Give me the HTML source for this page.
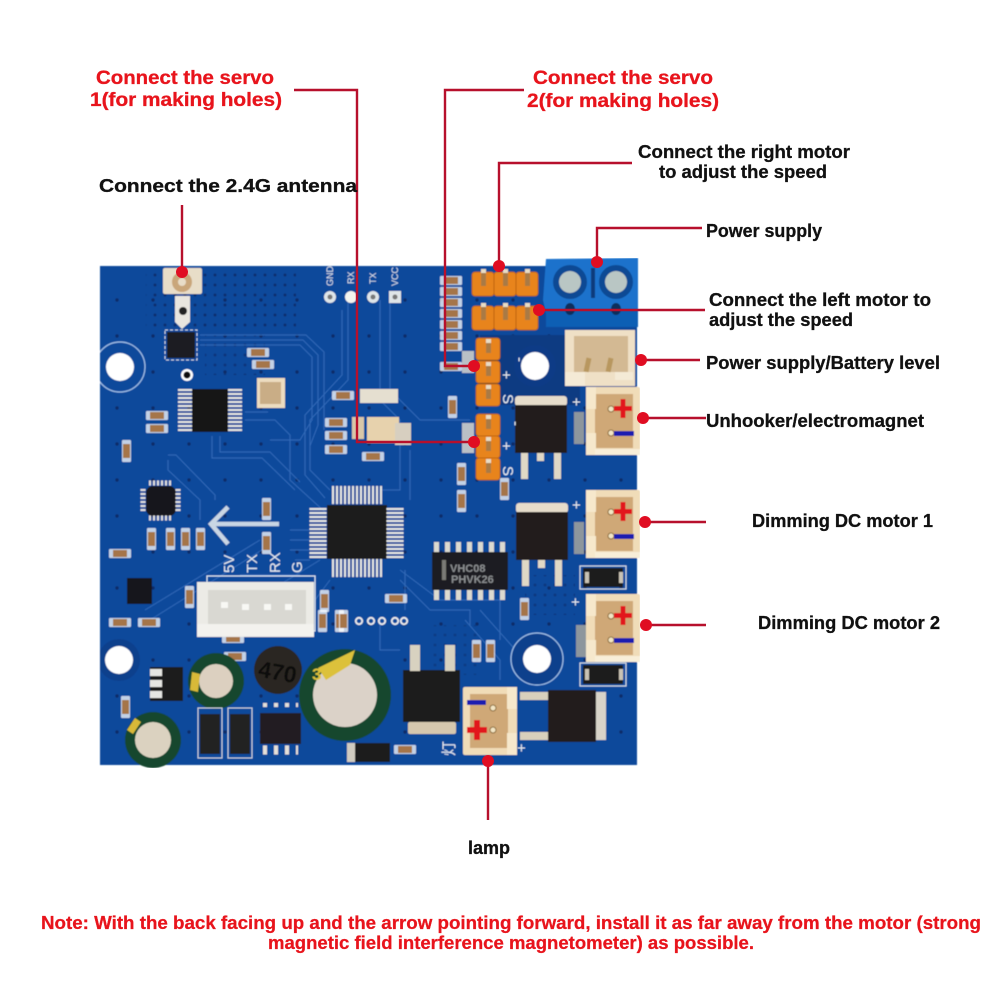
<!DOCTYPE html>
<html><head><meta charset="utf-8"><style>
html,body{margin:0;padding:0;background:#fff}
svg{display:block}
text{font-family:"Liberation Sans",sans-serif;font-weight:bold}
.r{fill:#e8141c;font-size:19px;stroke:#e8141c;stroke-width:.3}
.k{fill:#111;font-size:18px;stroke:#111;stroke-width:.3}
.n{fill:#e8141c;font-size:18px;stroke:#e8141c;stroke-width:.25}
.s{fill:#dfe6ef;font-size:9px;font-weight:normal}
.m{fill:#e8edf3;font-size:15px;font-weight:normal}
.w{stroke:#b7102c;stroke-width:2.4;fill:none}
.t{stroke:#3a72bf;stroke-width:1;fill:none;opacity:.8}
</style></head><body>
<svg width="1001" height="1001" viewBox="0 0 1001 1001" xmlns="http://www.w3.org/2000/svg">
<defs>
<clipPath id="bd"><rect x="100" y="266" width="537" height="499"/></clipPath>
<pattern id="vias" width="10" height="10" patternUnits="userSpaceOnUse"><circle cx="5" cy="5" r="1.5" fill="#0a2f6e"/></pattern>
<pattern id="vias2" width="36" height="36" patternUnits="userSpaceOnUse"><circle cx="9" cy="12" r="1.7" fill="#082c68"/></pattern>
<g id="jst">
<rect x="0" y="0" width="54" height="68" rx="2" fill="#f0dcb8"/>
<rect x="9" y="7" width="38" height="54" fill="#cfa877"/>
<rect x="0" y="0" width="10" height="22" fill="#f6e8cc"/>
<rect x="0" y="46" width="10" height="22" fill="#f6e8cc"/>
<rect x="9" y="62" width="45" height="6" fill="#f8eed8"/>
<circle cx="25" cy="22" r="3" fill="#f3e6c4" stroke="#8a6a3a"/>
<circle cx="25" cy="46" r="3" fill="#f3e6c4" stroke="#8a6a3a"/>
<rect x="28" y="19" width="18" height="5" fill="#e2141c"/><rect x="34.5" y="12" width="5" height="19" fill="#e2141c"/>
<rect x="28" y="44" width="20" height="5" fill="#1a1fb0"/>
</g>
<g id="hdr">
<rect x="0" y="0" width="22" height="24" rx="3" fill="#e8841c" stroke="#b8600f" stroke-width=".8"/>
<rect x="9" y="-2" width="5" height="16" fill="#a97a45"/><rect x="9" y="-3" width="5" height="4" fill="#e8dcc4"/>
</g>
<g id="vh">
<rect x="0" y="0" width="24" height="22" rx="3" fill="#e8841c" stroke="#b8600f" stroke-width=".8"/>
<rect x="10" y="2" width="5" height="13" fill="#a97a45"/><rect x="10" y="1" width="5" height="4" fill="#e8dcc4"/>
</g>
<g id="cap"><rect x="0" y="0" width="22" height="9" rx="1" fill="#fff" opacity=".75"/><rect x="4" y="1" width="14" height="7" fill="#a5754a"/></g>
<g id="capv"><rect x="0" y="0" width="9" height="22" rx="1" fill="#fff" opacity=".75"/><rect x="1" y="4" width="7" height="14" fill="#a5754a"/></g>
<g id="fet">
<rect x="0" y="-9" width="52" height="10" rx="3" fill="#e6dccb"/>
<rect x="0" y="0" width="52" height="48" fill="#201d1c"/>
<rect x="6" y="48" width="7" height="26" fill="#e0d8c6"/><rect x="39" y="48" width="7" height="26" fill="#e0d8c6"/><rect x="22" y="48" width="7" height="8" fill="#e0d8c6"/>
</g>
<g id="dio"><rect x="-3" y="-2" width="46" height="23" fill="none" stroke="#cfd8e4" stroke-width="1.2"/><rect x="0" y="0" width="40" height="19" fill="#1d1c1e"/><rect x="2" y="4" width="4" height="11" fill="#c9c2b4"/><rect x="36" y="4" width="4" height="11" fill="#c9c2b4"/></g>
<filter id="soft" x="0" y="0" width="100%" height="100%"><feGaussianBlur stdDeviation=".45"/></filter>
</defs>
<rect width="1001" height="1001" fill="#fff"/>

<g filter="url(#soft)">
<!-- board -->
<rect x="100" y="266" width="537" height="499" fill="#0c489b"/>
<rect x="100" y="266" width="537" height="499" fill="url(#vias2)"/>
<rect x="146" y="270" width="150" height="60" fill="url(#vias)"/>
<rect x="205" y="335" width="60" height="40" fill="url(#vias)" opacity=".7"/>
<rect x="430" y="625" width="50" height="50" fill="url(#vias)" opacity=".5"/>
<rect x="525" y="575" width="50" height="40" fill="url(#vias)" opacity=".6"/>
<rect x="480" y="335" width="100" height="70" fill="#0a3a82"/>
<!-- traces -->
<g class="t">
<path d="M200 345H300L312 357V420L300 440H270"/><path d="M200 340H303L318 355V425L310 446"/><path d="M200 335H306L324 352V430"/>
<path d="M245 420H275L290 435V480L325 512"/><path d="M245 412H268"/><path d="M220 436V452H270L300 482"/><path d="M212 436V458H262L295 490"/>
<path d="M168 460V470L200 500V520"/><path d="M168 455H176L215 495V500"/><path d="M348 300V380L310 420V470L330 490"/><path d="M342 310V375L305 415V475L325 498"/>
<path d="M380 300V400L400 420V480"/><path d="M390 300V390L420 420H470"/><path d="M400 440V490L380 490"/><path d="M410 450V500"/>
<path d="M400 580L430 610H470V625"/><path d="M400 570L440 600H500V640"/><path d="M290 530H310"/><path d="M290 540H310"/><path d="M290 550H310"/><path d="M295 560H310"/>
<path d="M255 600L320 560"/><path d="M150 620L270 545"/><path d="M145 610L260 540"/><path d="M315 600L330 580"/><path d="M240 575H300"/>
<path d="M480 610L520 655"/><path d="M465 620L500 660V680"/><path d="M380 620V650H400"/><path d="M405 570V610"/>
</g>
<!-- holes -->
<g clip-path="url(#bd)">
<circle cx="120" cy="367" r="25" fill="none" stroke="#9fc0e8" stroke-width="1.2"/><circle cx="120" cy="367" r="14" fill="#fff"/>
<circle cx="119" cy="660" r="21" fill="#0a3f8c"/><circle cx="119" cy="660" r="14" fill="#fff"/>
</g>
<circle cx="535" cy="366" r="21" fill="#0a3a86"/><circle cx="535" cy="366" r="14" fill="#fff"/>
<circle cx="537" cy="659" r="26" fill="#0a3f8c" stroke="#9fc0e8" stroke-width="1.2"/><circle cx="537" cy="659" r="14" fill="#fff"/>
<circle cx="187" cy="375" r="6" fill="#fff"/><circle cx="187" cy="375" r="3.5" fill="#111"/>
<!-- antenna -->
<rect x="163" y="268" width="39" height="26" rx="2" fill="#e8ddc8"/><circle cx="182" cy="282" r="10" fill="#c9a67a"/><circle cx="182" cy="282" r="4" fill="#e8ddc8"/>
<path d="M175 296H190V322L182 329L175 322Z" fill="#e9e6df"/><circle cx="183" cy="311" r="4" fill="#222"/>
<!-- U8 -->
<rect x="165" y="330" width="32" height="30" fill="none" stroke="#c8d4e4" stroke-dasharray="3 2"/><rect x="167" y="332" width="28" height="26" fill="#1b1b20"/>
<!-- U7 -->
<rect x="192" y="389" width="36" height="43" fill="#141416"/>
<line x1="185" y1="389" x2="185" y2="432" stroke="#e5e5e0" stroke-width="14" stroke-dasharray="2 2"/>
<line x1="235" y1="389" x2="235" y2="432" stroke="#e5e5e0" stroke-width="14" stroke-dasharray="2 2"/>
<!-- Y2 -->
<rect x="257" y="378" width="28" height="30" fill="#ecdcc0"/><rect x="260" y="382" width="21" height="22" fill="#c9ad86"/>
<use href="#cap" x="247" y="348"/><use href="#cap" x="252" y="360" /><use href="#cap" x="146" y="411"/><use href="#cap" x="146" y="424"/>
<use href="#capv" x="122" y="440"/><use href="#capv" x="262" y="498"/><use href="#capv" x="262" y="532"/><use href="#capv" x="147" y="528"/><use href="#capv" x="166" y="528"/><use href="#capv" x="181" y="528"/><use href="#capv" x="196" y="528"/>
<use href="#cap" x="332" y="391"/><use href="#cap" x="325" y="418"/><use href="#cap" x="325" y="431"/><use href="#cap" x="325" y="445"/><use href="#cap" x="362" y="452"/>
<!-- LED/crystal -->
<rect x="360" y="389" width="38" height="14" fill="#e5dfd0"/><rect x="367" y="417" width="32" height="26" fill="#e7d2ad"/><rect x="352" y="417" width="12" height="22" fill="#d8c7a8"/>
<rect x="395" y="423" width="16" height="22" fill="#d7cfc0"/>
<!-- LP chip U1 -->
<rect x="146" y="486" width="30" height="30" rx="7" fill="#17171b"/>
<line x1="149" y1="483" x2="173" y2="483" stroke="#dedede" stroke-width="5" stroke-dasharray="2 2"/><line x1="149" y1="518" x2="173" y2="518" stroke="#dedede" stroke-width="5" stroke-dasharray="2 2"/>
<line x1="143" y1="489" x2="143" y2="513" stroke="#dedede" stroke-width="5" stroke-dasharray="2 2"/><line x1="178" y1="489" x2="178" y2="513" stroke="#dedede" stroke-width="5" stroke-dasharray="2 2"/>
<!-- arrow -->
<path d="M279 524H212M228 507L211 524L228 544" fill="none" stroke="#c9d6e4" stroke-width="4.5"/>
<!-- MCU -->
<rect x="327" y="505" width="60" height="54" fill="#1c1b1e"/>
<line x1="332" y1="495" x2="384" y2="495" stroke="#e6e6e2" stroke-width="18" stroke-dasharray="2 2"/>
<line x1="332" y1="568" x2="384" y2="568" stroke="#e6e6e2" stroke-width="18" stroke-dasharray="2 2"/>
<line x1="318" y1="508" x2="318" y2="558" stroke="#e6e6e2" stroke-width="17" stroke-dasharray="2 2"/>
<line x1="395" y1="508" x2="395" y2="558" stroke="#e6e6e2" stroke-width="17" stroke-dasharray="2 2"/>
<!-- U5 -->
<rect x="127" y="578" width="25" height="26" fill="#15151a"/><use href="#capv" x="185" y="586"/><use href="#cap" x="109" y="549"/><use href="#cap" x="109" y="618"/><use href="#cap" x="138" y="618"/>
<use href="#capv" x="320" y="590"/><use href="#capv" x="335" y="610"/><use href="#cap" x="224" y="652"/><use href="#capv" x="121" y="696"/><use href="#cap" x="222" y="634"/>
<use href="#capv" x="318" y="610"/><use href="#capv" x="339" y="610"/>
<!-- white connector -->
<rect x="207" y="576" width="108" height="55" fill="none" stroke="#dbe5f1" stroke-width="1.2"/>
<rect x="197" y="582" width="117" height="55" fill="#ecebe6"/><rect x="208" y="590" width="98" height="34" fill="#d9d8d2"/><rect x="197" y="624" width="117" height="12" fill="#f3f2ee"/>
<rect x="221" y="602" width="7" height="6" fill="#f8f8f4"/><rect x="242" y="604" width="7" height="6" fill="#f8f8f4"/><rect x="264" y="604" width="7" height="6" fill="#f8f8f4"/><rect x="285" y="604" width="7" height="6" fill="#f8f8f4"/>
<!-- small pads -->
<g fill="none" stroke="#eee" stroke-width="1.8"><circle cx="359" cy="621" r="3.2"/><circle cx="371" cy="621" r="3.2"/><circle cx="382" cy="621" r="3.2"/><circle cx="395" cy="621" r="3.2"/><circle cx="404" cy="621" r="3.2"/></g>
<!-- power parts -->
<rect x="150" y="667" width="33" height="34" fill="#1c1b1d"/><rect x="150" y="669" width="12" height="7" fill="#e6e6e2"/><rect x="150" y="680" width="12" height="7" fill="#e6e6e2"/><rect x="150" y="691" width="12" height="7" fill="#e6e6e2"/>
<circle cx="278" cy="670" r="24" fill="#2c2622"/><text x="278" y="680" text-anchor="middle" fill="#101010" font-size="23" transform="rotate(10 278 670)">470</text>
<circle cx="216" cy="681" r="28" fill="#14472f"/><circle cx="216" cy="681" r="17" fill="#dcd0c0"/><path d="M192 672l-2 18 8 2 2-18z" fill="#d8b938"/>
<circle cx="345" cy="695" r="46" fill="#14472f"/><circle cx="345" cy="695" r="32" fill="#dbd2c8"/><path d="M318 668L355 650L350 665L326 680Z" fill="#dcc13a"/><text x="312" y="680" fill="#dcc13a" font-size="17">3</text>
<circle cx="153" cy="740" r="28" fill="#14472f"/><circle cx="153" cy="740" r="18" fill="#dbd2c0"/><path d="M127 730l8-12 6 4-8 12z" fill="#d8b938"/>
<rect x="198" y="708" width="24" height="50" fill="none" stroke="#c8d2e0"/><rect x="228" y="708" width="24" height="50" fill="none" stroke="#c8d2e0"/>
<rect x="200" y="714" width="20" height="40" fill="#222024"/><rect x="230" y="714" width="20" height="40" fill="#222024"/>
<rect x="260" y="713" width="41" height="31" fill="#201e20"/>
<line x1="263" y1="705" x2="298" y2="705" stroke="#e4e0d8" stroke-width="4" stroke-dasharray="4 7"/><line x1="263" y1="750" x2="298" y2="750" stroke="#e4e0d8" stroke-width="9" stroke-dasharray="4 7"/>
<rect x="353" y="743" width="37" height="19" fill="#1e1c1e"/><rect x="347" y="743" width="8" height="19" fill="#d0cbc0"/><use href="#cap" x="394" y="745"/>
<!-- VHC08 -->
<rect x="432" y="552" width="76" height="38" fill="#1f1f22"/>
<rect x="442" y="560" width="4" height="20" fill="#7a7a76"/>
<line x1="434" y1="547" x2="506" y2="547" stroke="#dcdad0" stroke-width="10" stroke-dasharray="5 6"/><line x1="434" y1="595" x2="506" y2="595" stroke="#dcdad0" stroke-width="10" stroke-dasharray="5 6"/>
<text x="450" y="572" fill="#8a8d90" font-size="11" font-weight="normal">VHC08</text><text x="451" y="583" fill="#8a8d90" font-size="11" font-weight="normal">PHVK26</text>
<use href="#cap" x="385" y="594"/>
<use href="#capv" x="472" y="640"/><use href="#capv" x="486" y="640"/><use href="#capv" x="448" y="396"/><use href="#capv" x="457" y="463"/><use href="#capv" x="457" y="490"/><use href="#capv" x="500" y="478"/><use href="#capv" x="520" y="598"/>
<!-- 0603 column -->
<use href="#cap" x="440" y="276"/><use href="#cap" x="440" y="287"/><use href="#cap" x="440" y="298"/><use href="#cap" x="440" y="309"/><use href="#cap" x="440" y="320"/><use href="#cap" x="440" y="331"/><use href="#cap" x="440" y="342"/><use href="#cap" x="440" y="362"/>
<!-- FETs -->
<use href="#fet" x="515" y="405"/>
<use href="#fet" x="516" y="512"/>
<g><rect x="403" y="670" width="57" height="52" fill="#1e1c1c"/><rect x="408" y="722" width="48" height="12" rx="2" fill="#d6c8ae"/><rect x="410" y="645" width="10" height="26" fill="#d8d2c0"/><rect x="445" y="645" width="10" height="26" fill="#d8d2c0"/></g>
<g><rect x="548" y="690" width="48" height="52" fill="#211f1f"/><rect x="596" y="692" width="10" height="48" fill="#d8d3c8"/><rect x="520" y="692" width="28" height="8" fill="#d8d0bc"/><rect x="520" y="732" width="28" height="8" fill="#d8d0bc"/></g>
<!-- diodes -->
<use href="#dio" x="583" y="568"/><use href="#dio" x="583" y="665"/>
<!-- light pads -->
<rect x="462" y="351" width="12" height="22" fill="#b9c0c6"/><rect x="462" y="423" width="12" height="30" fill="#b9c0c6"/><rect x="574" y="412" width="10" height="32" fill="#8d969d"/><rect x="574" y="522" width="10" height="32" fill="#8d969d"/><rect x="576" y="625" width="10" height="32" fill="#8d969d"/>
<!-- headers -->
<use href="#hdr" x="472" y="272"/><use href="#hdr" x="494" y="272"/><use href="#hdr" x="516" y="272"/>
<use href="#hdr" x="472" y="306"/><use href="#hdr" x="494" y="306"/><use href="#hdr" x="516" y="306"/>
<use href="#vh" x="476" y="338"/><use href="#vh" x="476" y="361"/><use href="#vh" x="476" y="384"/>
<use href="#vh" x="476" y="414"/><use href="#vh" x="476" y="436"/><use href="#vh" x="476" y="458"/>
<!-- terminal block -->
<path d="M546 259L638 258V316L632 327H549L543 300Z" fill="#1a72cc"/><rect x="546" y="309" width="92" height="18" fill="#0f5fb4"/>
<circle cx="570" cy="282" r="17" fill="#0a4a94"/><circle cx="570" cy="282" r="11" fill="#b9c6c4"/>
<circle cx="616" cy="282" r="17" fill="#0a4a94"/><circle cx="616" cy="282" r="11" fill="#b9c6c4"/>
<rect x="591" y="268" width="4" height="30" fill="#093a7c"/>
<ellipse cx="570" cy="309" rx="5" ry="6" fill="#0a2e5c"/><ellipse cx="616" cy="309" rx="5" ry="6" fill="#0a2e5c"/>
<!-- power connector -->
<rect x="565" y="330" width="70" height="56" fill="#efe0c6"/><rect x="574" y="336" width="54" height="36" fill="#d3b993"/><rect x="565" y="372" width="20" height="14" fill="#f4ead6"/><rect x="615" y="372" width="18" height="8" fill="#f4ead6"/>
<rect x="585" y="358" width="5" height="14" fill="#b8975f" transform="rotate(12 588 365)"/><rect x="607" y="358" width="5" height="14" fill="#b8975f" transform="rotate(12 610 365)"/>
<!-- JSTs -->
<use href="#jst" x="586" y="387"/><use href="#jst" x="586" y="490"/><use href="#jst" x="586" y="594"/>
<!-- lamp connector -->
<g transform="translate(517 755) rotate(180)"><rect x="0" y="0" width="54" height="68" rx="2" fill="#f0dcb8"/><rect x="9" y="7" width="38" height="54" fill="#cfa877"/><rect x="0" y="0" width="10" height="22" fill="#f6e8cc"/><rect x="0" y="46" width="10" height="22" fill="#f6e8cc"/></g>
<circle cx="493" cy="708" r="3" fill="#f3e6c4" stroke="#8a6a3a"/><circle cx="493" cy="730" r="3" fill="#f3e6c4" stroke="#8a6a3a"/>
<rect x="467" y="700" width="19" height="5" fill="#1a1fb0"/><rect x="467" y="727" width="20" height="6" fill="#e2141c"/><rect x="474" y="720" width="6" height="20" fill="#e2141c"/>
<!-- silk -->
<g>
<circle cx="330" cy="297" r="6" fill="#dfe5e8"/><circle cx="330" cy="297" r="2.5" fill="#777"/>
<circle cx="351" cy="297" r="6" fill="#f4f4ee"/><circle cx="373" cy="297" r="6" fill="#dfe5e8"/><circle cx="373" cy="297" r="2.5" fill="#777"/>
<rect x="389" y="291" width="12" height="12" fill="#dfe5e8"/><circle cx="395" cy="297" r="2.5" fill="#777"/>
<text class="s" transform="translate(333 286) rotate(-90)">GND</text>
<text class="s" transform="translate(354 284) rotate(-90)">RX</text>
<text class="s" transform="translate(376 284) rotate(-90)">TX</text>
<text class="s" transform="translate(398 286) rotate(-90)">VCC</text>
<text class="m" transform="translate(234 573) rotate(-90)">5V</text>
<text class="m" transform="translate(257 573) rotate(-90)">TX</text>
<text class="m" transform="translate(280 573) rotate(-90)">RX</text>
<text class="m" transform="translate(302 573) rotate(-90)">G</text>
<text class="m" transform="translate(515 357) rotate(90)" font-size="14">-</text>
<text x="502" y="380" class="m" font-size="20">+</text>
<text class="m" transform="translate(503 394) rotate(90)">S</text>
<text class="m" transform="translate(511 421) rotate(90)">-</text>
<text x="502" y="451" class="m">+</text>
<text class="m" transform="translate(503 466) rotate(90)">S</text>
<text x="572" y="407" class="m">+</text><text x="572" y="510" class="m">+</text><text x="571" y="607" class="m">+</text>
<text x="517" y="753" class="m">+</text><text x="441" y="757" class="m" font-size="14" transform="rotate(-90 447 750)">灯</text>
</g>
</g>

<!-- connectors -->
<g class="w">
<path d="M182 205V272"/>
<path d="M294 90H357V442H474"/>
<path d="M524 90H445V366H474"/>
<path d="M632 163H499V266"/>
<path d="M702 228H597V262"/>
<path d="M705 310H539"/>
<path d="M700 360H641"/>
<path d="M706 418H643"/>
<path d="M706 522H645"/>
<path d="M706 625H646"/>
<path d="M488 820V761"/>
</g>
<g fill="#e00d22">
<circle cx="182" cy="272" r="6"/><circle cx="474" cy="442" r="6"/><circle cx="474" cy="366" r="6"/><circle cx="499" cy="266" r="6"/><circle cx="597" cy="262" r="6"/><circle cx="539" cy="310" r="6"/><circle cx="641" cy="360" r="6"/><circle cx="643" cy="418" r="6"/><circle cx="645" cy="522" r="6"/><circle cx="646" cy="625" r="6"/><circle cx="488" cy="761" r="6"/>
</g>

<!-- labels -->
<text class="r" x="96" y="84" textLength="178" lengthAdjust="spacingAndGlyphs">Connect the servo</text>
<text class="r" x="90" y="106" textLength="192" lengthAdjust="spacingAndGlyphs">1(for making holes)</text>
<text class="r" x="533" y="84" textLength="180" lengthAdjust="spacingAndGlyphs">Connect the servo</text>
<text class="r" x="527" y="107" textLength="192" lengthAdjust="spacingAndGlyphs">2(for making holes)</text>
<text class="k" x="99" y="192" textLength="258" lengthAdjust="spacingAndGlyphs">Connect the 2.4G antenna</text>
<text class="k" x="638" y="158" textLength="212" lengthAdjust="spacingAndGlyphs">Connect the right motor</text>
<text class="k" x="659" y="178" textLength="168" lengthAdjust="spacingAndGlyphs">to adjust the speed</text>
<text class="k" x="706" y="237" textLength="116" lengthAdjust="spacingAndGlyphs">Power supply</text>
<text class="k" x="709" y="306" textLength="222" lengthAdjust="spacingAndGlyphs">Connect the left motor to</text>
<text class="k" x="709" y="326" textLength="144" lengthAdjust="spacingAndGlyphs">adjust the speed</text>
<text class="k" x="706" y="369" textLength="234" lengthAdjust="spacingAndGlyphs">Power supply/Battery level</text>
<text class="k" x="706" y="427" textLength="218" lengthAdjust="spacingAndGlyphs">Unhooker/electromagnet</text>
<text class="k" x="752" y="527" textLength="181" lengthAdjust="spacingAndGlyphs">Dimming DC motor 1</text>
<text class="k" x="758" y="629" textLength="182" lengthAdjust="spacingAndGlyphs">Dimming DC motor 2</text>
<text class="k" x="468" y="854" textLength="42" lengthAdjust="spacingAndGlyphs">lamp</text>
<text class="n" x="41" y="929" textLength="940" lengthAdjust="spacingAndGlyphs">Note: With the back facing up and the arrow pointing forward, install it as far away from the motor (strong</text>
<text class="n" x="268" y="949" textLength="486" lengthAdjust="spacingAndGlyphs">magnetic field interference magnetometer) as possible.</text>
</svg>
</body></html>
